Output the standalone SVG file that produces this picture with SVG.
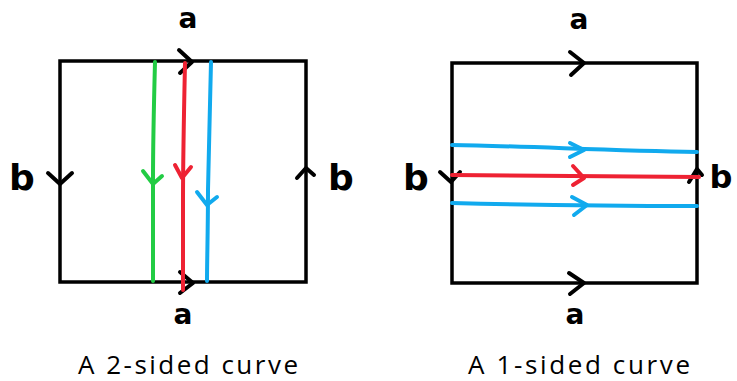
<svg xmlns="http://www.w3.org/2000/svg" width="737" height="381" viewBox="0 0 737 381">
<style>
.sq{fill:none;stroke:#000;stroke-width:3.5;stroke-linejoin:miter}
.ch{fill:none;stroke-width:4;stroke-linecap:round;stroke-linejoin:round}
.k{stroke:#000}
.g{stroke:#22cc44}
.r{stroke:#ee2233}
.bl{stroke:#11aaee}
.cv{fill:none;stroke-width:4;stroke-linecap:round}
.lab{font-family:"DejaVu Sans",sans-serif;font-weight:bold;fill:#000;text-anchor:middle}
.cap{font-family:"Open Sans",sans-serif;font-size:26px;fill:#000}
</style>
<rect width="737" height="381" fill="#fff"/>
<g id="square-left">
<rect class="sq" x="60" y="61" width="246" height="221"/>
<path class="ch k" d="M179,50 L192,62 L180,73"/>
<path class="ch k" d="M180,272 L193,283 L180,293"/>
<path class="ch k" d="M48,173 L60,184 L72,173"/>
<path class="ch k" d="M297,178 L306,168 L314,175"/>
<text class="lab" x="188" y="28" font-size="28">a</text>
<text class="lab" x="183" y="324" font-size="28">a</text>
<text class="lab" x="22" y="190" font-size="36">b</text>
<text class="lab" x="341" y="190" font-size="36">b</text>
</g>
<g id="square-right">
<rect class="sq" x="452" y="63" width="245" height="220"/>
<path class="ch k" d="M570,52 L584,63 L571,75"/>
<path class="ch k" d="M569,273 L584,283 L570,294"/>
<path class="ch k" d="M440,172 L451,182 L460,172"/>
<path class="ch k" d="M689,182 L697,169 L702,175"/>
<text class="lab" x="579" y="29" font-size="28">a</text>
<text class="lab" x="575" y="324" font-size="28">a</text>
<text class="lab" x="416" y="190" font-size="36">b</text>
<text class="lab" x="721" y="188" font-size="32">b</text>
</g>
<g id="curves">
<path class="cv g" d="M155,62 C154,100 153,140 153,180 C153,220 153,250 153,281"/>
<path class="ch g" d="M143,171 L153,184 L162,176"/>
<path class="cv r" d="M185,63 C184,110 183,160 183,200 C183,240 183,270 183,290"/>
<path class="ch r" d="M175,165 L182,178 L191,167"/>
<path class="cv bl" d="M211,62 C210,100 209,150 208,190 C208,230 207,260 207,281"/>
<path class="ch bl" d="M197,192 L207,205 L217,197"/>
<path class="cv bl" d="M452,145 C520,146 600,150 697,152"/>
<path class="ch bl" d="M570,143 L584,150 L570,157"/>
<path class="cv r" d="M452,175 C540,176 620,177 699,177"/>
<path class="ch r" d="M573,166 L584,178 L573,185"/>
<path class="cv bl" d="M452,203 C530,205 620,206 697,206"/>
<path class="ch bl" d="M572,197 L587,205 L574,215"/>
</g>
<text class="cap" x="78" y="374" textLength="220" lengthAdjust="spacing">A 2-sided curve</text>
<text class="cap" x="468" y="374" textLength="222" lengthAdjust="spacing">A 1-sided curve</text>
</svg>
